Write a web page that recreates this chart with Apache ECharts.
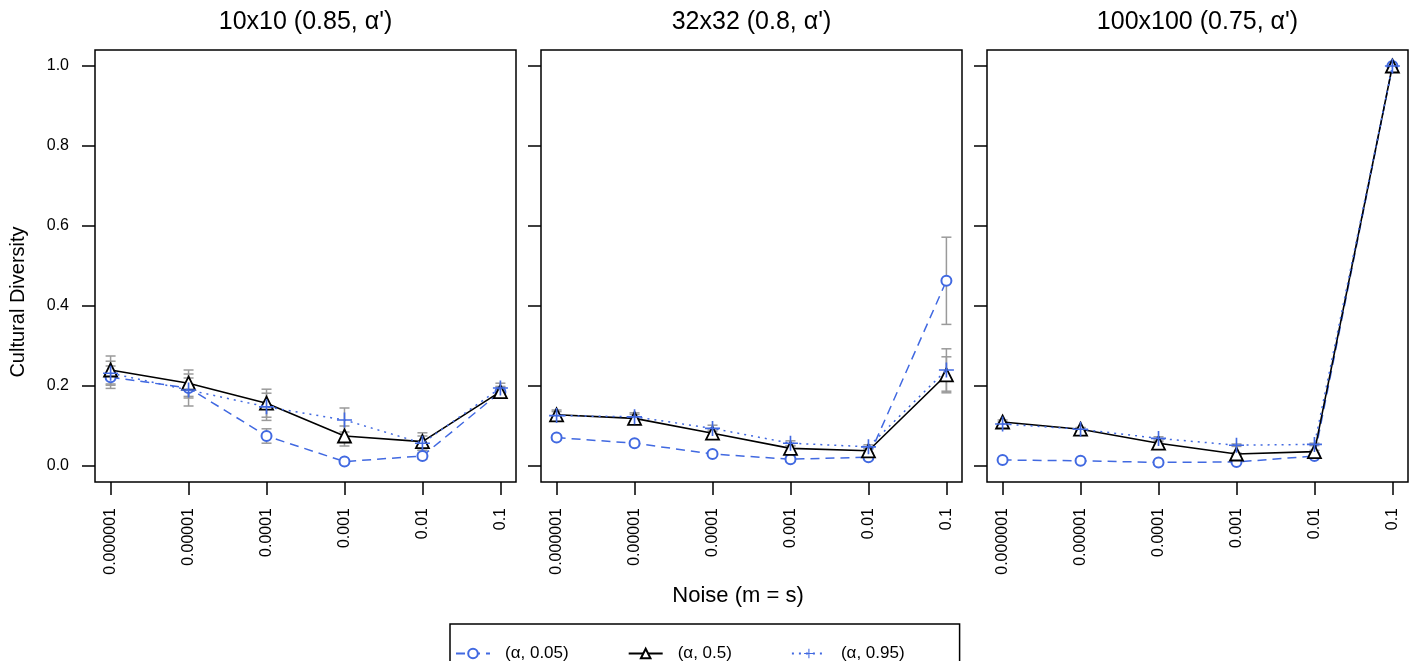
<!DOCTYPE html>
<html>
<head>
<meta charset="utf-8">
<script src="https://cdn.jsdelivr.net/npm/echarts@6/dist/echarts.min.js"></script>
<style>
  html, body { margin: 0; padding: 0; background: #fff; }
  #chart { width: 1413px; height: 661px; }
</style>
</head>
<body>
<div id="chart"></div>
<script>
// noise levels on the x axis
const noiseLabels = ['0.000001', '0.00001', '0.0001', '0.001', '0.01', '0.1'];
const panelTitles = ["10x10 (0.85, α')", "32x32 (0.8, α')", "100x100 (0.75, α')"];
const seriesNames = ['(α, 0.05)', '(α, 0.5)', '(α, 0.95)'];
const yTicks = [0, 0.2, 0.4, 0.6, 0.8, 1.0];

// 10x10
const mean10_a05 = [0.222, 0.195, 0.075, 0.011, 0.025, 0.185];
const err10_a05  = [0.028, 0.025, 0.018, 0.003, 0.008, 0.012];
const mean10_a50 = [0.240, 0.207, 0.157, 0.075, 0.061, 0.186];
const err10_a50  = [0.035, 0.033, 0.035, 0.025, 0.022, 0.013];
const mean10_a95 = [0.232, 0.190, 0.148, 0.115, 0.057, 0.195];
const err10_a95  = [0.030, 0.040, 0.034, 0.030, 0.018, 0.012];

// 32x32
const mean32_a05 = [0.071, 0.057, 0.030, 0.017, 0.022, 0.463];
const err32_a05  = [0.006, 0.005, 0.004, 0.003, 0.003, 0.109];
const mean32_a50 = [0.128, 0.119, 0.082, 0.044, 0.038, 0.228];
const err32_a50  = [0.012, 0.010, 0.008, 0.006, 0.005, 0.045];
const mean32_a95 = [0.126, 0.123, 0.094, 0.057, 0.048, 0.240];
const err32_a95  = [0.010, 0.010, 0.008, 0.006, 0.005, 0.053];

// 100x100
const mean100_a05 = [0.015, 0.013, 0.009, 0.010, 0.025, 1.0];
const err100_a05  = [0.002, 0.002, 0.002, 0.002, 0.003, 0.0];
const mean100_a50 = [0.110, 0.092, 0.057, 0.030, 0.036, 1.0];
const err100_a50  = [0.005, 0.004, 0.004, 0.003, 0.003, 0.0];
const mean100_a95 = [0.105, 0.092, 0.069, 0.052, 0.054, 1.0];
const err100_a95  = [0.005, 0.004, 0.004, 0.003, 0.003, 0.0];

const panels = [
  [[mean10_a05, err10_a05], [mean10_a50, err10_a50], [mean10_a95, err10_a95]],
  [[mean32_a05, err32_a05], [mean32_a50, err32_a50], [mean32_a95, err32_a95]],
  [[mean100_a05, err100_a05], [mean100_a50, err100_a50], [mean100_a95, err100_a95]]
];

const BLUE = '#4169e1';
const FONT = 'Liberation Sans, Arial, sans-serif';
const gridLefts = [95, 541, 987];
const gridWidth = 421;
const PLUS = 'path://M0,4.45H10V5.55H0Z M4.45,0H5.55V10H4.45Z';

const styles = [
  { symbol: 'emptyCircle', symbolSize: 10, color: BLUE, line: { color: BLUE, width: 1.5, type: [9, 6] },
    item: { color: BLUE, borderColor: BLUE, borderWidth: 1.5 } },
  { symbol: 'triangle', symbolSize: 13, color: '#000', line: { color: '#000', width: 1.6, type: 'solid' },
    item: { color: '#fff', borderColor: '#000', borderWidth: 1.8 } },
  { symbol: PLUS, symbolSize: 15, color: BLUE, line: { color: BLUE, width: 1.5, type: [2, 5] },
    item: { color: BLUE, borderWidth: 0 } }
];

function errorBarRender(params, api) {
  const x = api.value(0);
  const hi = api.coord([x, api.value(2)]);
  const lo = api.coord([x, api.value(1)]);
  const w = 5;
  const style = { stroke: '#9a9a9a', lineWidth: 1.5 };
  return {
    type: 'group',
    children: [
      { type: 'line', shape: { x1: hi[0], y1: hi[1], x2: lo[0], y2: lo[1] }, style: style },
      { type: 'line', shape: { x1: hi[0] - w, y1: hi[1], x2: hi[0] + w, y2: hi[1] }, style: style },
      { type: 'line', shape: { x1: lo[0] - w, y1: lo[1], x2: lo[0] + w, y2: lo[1] }, style: style }
    ]
  };
}

const grids = [], xAxes = [], yAxes = [], series = [];
panels.forEach((panel, p) => {
  grids.push({
    left: gridLefts[p], top: 50, width: gridWidth, height: 432,
    show: true, borderColor: '#000', borderWidth: 1.5, backgroundColor: 'transparent'
  });
  xAxes.push({
    gridIndex: p, type: 'value', min: 0.8, max: 6.2,
    axisLine: { show: false, onZero: false },
    splitLine: { show: false },
    axisTick: { show: true, length: 13, customValues: [1, 2, 3, 4, 5, 6], lineStyle: { color: '#000', width: 1.5 } },
    axisLabel: {
      customValues: [1, 2, 3, 4, 5, 6], rotate: 90, margin: 26,
      color: '#000', fontSize: 16, fontFamily: FONT,
      formatter: v => noiseLabels[Math.round(v) - 1]
    }
  });
  yAxes.push({
    gridIndex: p, type: 'value', min: -0.04, max: 1.04,
    axisLine: { show: false, onZero: false },
    splitLine: { show: false },
    axisTick: { show: true, length: 13, customValues: yTicks, lineStyle: { color: '#000', width: 1.5 } },
    axisLabel: {
      show: p === 0, customValues: yTicks, margin: 26,
      color: '#000', fontSize: 16, fontFamily: FONT,
      formatter: v => v.toFixed(1)
    }
  });
  panel.forEach(([means, errs], s) => {
    series.push({
      type: 'custom', name: 'err' + p + s, xAxisIndex: p, yAxisIndex: p,
      renderItem: errorBarRender, silent: true, z: 1,
      encode: { x: 0, y: [1, 2] },
      data: means.map((m, i) => [i + 1, m - errs[i], m + errs[i]])
    });
  });
  panel.forEach(([means], s) => {
    const st = styles[s];
    series.push({
      type: 'line', name: seriesNames[s], xAxisIndex: p, yAxisIndex: p,
      symbol: st.symbol, symbolSize: st.symbolSize, showSymbol: true,
      color: st.color, lineStyle: st.line, itemStyle: st.item, z: 3 + s,
      data: means.map((m, i) => [i + 1, m])
    });
  });
});

const titles = panelTitles.map((t, p) => ({
  text: t, left: gridLefts[p] + gridWidth / 2, top: 10, padding: 0,
  textAlign: 'center', textVerticalAlign: 'top',
  textStyle: { fontSize: 25, fontWeight: 'normal', color: '#000', fontFamily: FONT }
}));
titles.push({
  text: 'Noise (m = s)', left: 738, top: 585, padding: 0,
  textAlign: 'center', textVerticalAlign: 'top',
  textStyle: { fontSize: 22, fontWeight: 'normal', color: '#000', fontFamily: FONT }
});

const chart = echarts.init(document.getElementById('chart'));
chart.setOption({
  animation: false,
  backgroundColor: '#fff',
  title: titles,
  grid: grids,
  xAxis: xAxes,
  yAxis: yAxes,
  legend: {
    data: seriesNames, left: 450, top: 624,
    padding: [21, 55, 20, 5], itemGap: 59, itemWidth: 34, itemHeight: 12,
    borderColor: '#000', borderWidth: 1.5,
    textStyle: { fontSize: 17, color: '#000', fontFamily: FONT, padding: [0, 0, 0, 10] }
  },
  graphic: [{
    type: 'text', x: 18, y: 302, rotation: Math.PI / 2,
    style: { text: 'Cultural Diversity', fill: '#000', font: '20px ' + FONT,
      textAlign: 'center', textVerticalAlign: 'middle' }
  }],
  series: series
});
</script>
</body>
</html>
